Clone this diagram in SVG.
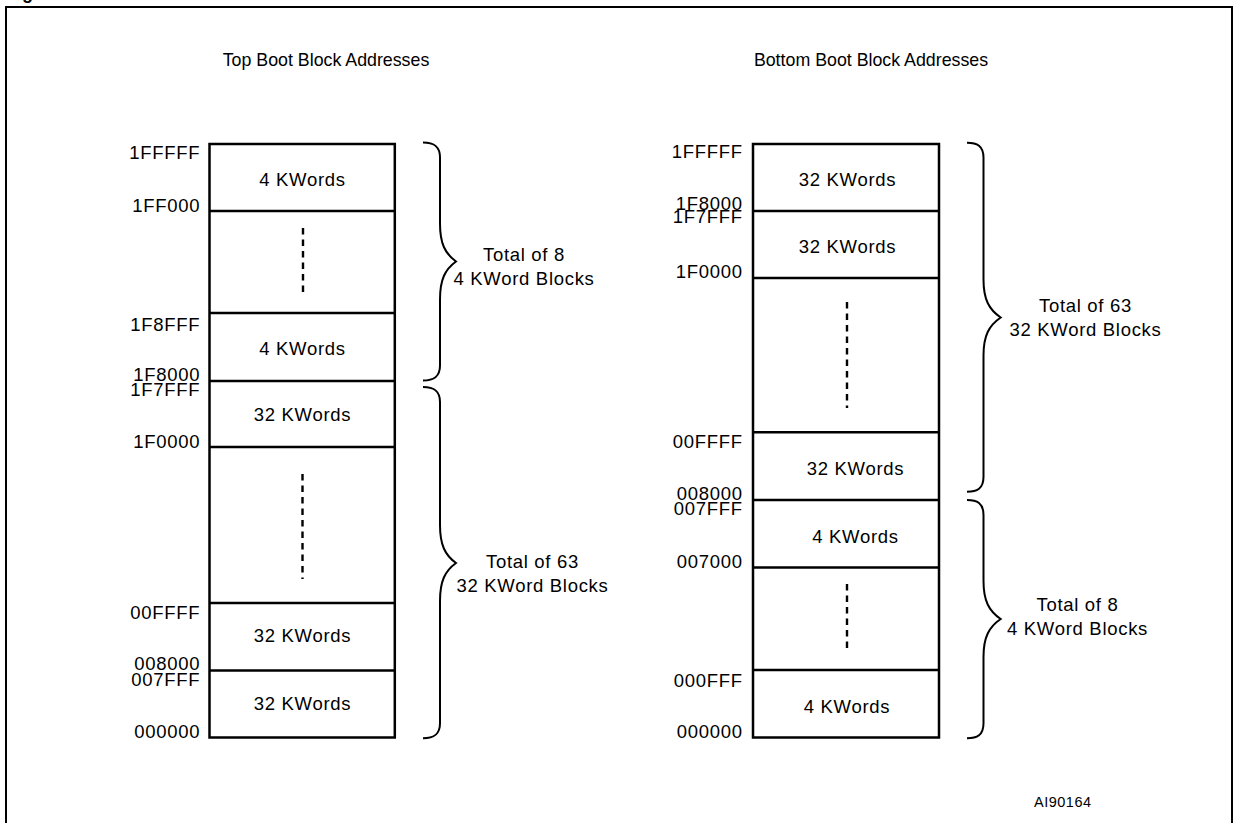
<svg xmlns="http://www.w3.org/2000/svg" width="1235" height="823" viewBox="0 0 1235 823">
<style>
text{font-family:"Liberation Sans",Arial,sans-serif;font-size:18.5px;letter-spacing:0.7px;fill:#000}
.r{text-anchor:end}
.m{text-anchor:middle}
.t{font-size:17.8px;letter-spacing:0}
.box{fill:none;stroke:#000;stroke-width:2.5}
.div{stroke:#000;stroke-width:2.5}
.dash{stroke:#000;stroke-width:2.4;stroke-dasharray:6.5 5}
.brace{fill:none;stroke:#000;stroke-width:2}
.id{font-size:14.5px;letter-spacing:0.5px}
</style>
<rect width="1235" height="823" fill="#fff"/>
<path d="M6,830 V7 H1232 V830" fill="none" stroke="#000" stroke-width="2"/>
<text x="6" y="-1" style="font-weight:bold;font-size:18px;letter-spacing:0">Figure</text>

<text id="title-top" class="m t" x="326" y="66">Top Boot Block Addresses</text>
<text id="title-bottom" class="m t" x="871" y="66">Bottom Boot Block Addresses</text>

<g id="left-map">
<rect class="box" x="209.5" y="144" width="185.3" height="593.5"/>
<line class="div" x1="209.5" y1="211" x2="394.8" y2="211"/>
<line class="div" x1="209.5" y1="313" x2="394.8" y2="313"/>
<line class="div" x1="209.5" y1="381" x2="394.8" y2="381"/>
<line class="div" x1="209.5" y1="447" x2="394.8" y2="447"/>
<line class="div" x1="209.5" y1="603" x2="394.8" y2="603"/>
<line class="div" x1="209.5" y1="670.5" x2="394.8" y2="670.5"/>
<line class="dash" x1="303" y1="228" x2="303" y2="294"/>
<line class="dash" x1="302.5" y1="474" x2="302.5" y2="579"/>
<text class="m" x="302.5" y="186">4 KWords</text>
<text class="m" x="302.5" y="355">4 KWords</text>
<text class="m" x="302.5" y="421">32 KWords</text>
<text class="m" x="302.5" y="642">32 KWords</text>
<text class="m" x="302.5" y="710">32 KWords</text>
<text class="r" x="200.2" y="159">1FFFFF</text>
<text class="r" x="200.2" y="212">1FF000</text>
<text class="r" x="200.2" y="331">1F8FFF</text>
<text class="r" x="200.2" y="381">1F8000</text>
<text class="r" x="200.2" y="396">1F7FFF</text>
<text class="r" x="200.2" y="448">1F0000</text>
<text class="r" x="200.2" y="619">00FFFF</text>
<text class="r" x="200.2" y="670">008000</text>
<text class="r" x="200.2" y="686">007FFF</text>
<text class="r" x="200.2" y="738">000000</text>
</g>

<g id="right-map">
<rect class="box" x="753" y="144" width="186" height="593.5"/>
<line class="div" x1="753" y1="211" x2="939" y2="211"/>
<line class="div" x1="753" y1="278" x2="939" y2="278"/>
<line class="div" x1="753" y1="432.3" x2="939" y2="432.3"/>
<line class="div" x1="753" y1="500" x2="939" y2="500"/>
<line class="div" x1="753" y1="567.5" x2="939" y2="567.5"/>
<line class="div" x1="753" y1="670" x2="939" y2="670"/>
<line class="dash" x1="847" y1="302" x2="847" y2="408"/>
<line class="dash" x1="847" y1="584" x2="847" y2="652"/>
<text class="m" x="847.5" y="186">32 KWords</text>
<text class="m" x="847.5" y="253">32 KWords</text>
<text class="m" x="855.5" y="475">32 KWords</text>
<text class="m" x="855.5" y="543">4 KWords</text>
<text class="m" x="847" y="713">4 KWords</text>
<text class="r" x="742.7" y="158">1FFFFF</text>
<text class="r" x="742.7" y="210">1F8000</text>
<text class="r" x="742.7" y="223">1F7FFF</text>
<text class="r" x="742.7" y="278">1F0000</text>
<text class="r" x="742.7" y="448">00FFFF</text>
<text class="r" x="742.7" y="500">008000</text>
<text class="r" x="742.7" y="515">007FFF</text>
<text class="r" x="742.7" y="568">007000</text>
<text class="r" x="742.7" y="687">000FFF</text>
<text class="r" x="742.7" y="738">000000</text>
</g>

<g id="braces">
<path class="brace" d="M423,142.5 C433,142.5 440,145.5 440,157.5 L440,223.5 C440,243.5 445,253.5 456,261.5 C445,269.5 440,279.5 440,299.5 L440,365.5 C440,377.5 433,380.5 423,380.5"/>
<path class="brace" d="M423,387 C433,387 440,390 440,402 L440,525 C440,545 445,555 456,563 C445,571 440,581 440,601 L440,723.3 C440,735.3 433,738.3 423,738.3"/>
<path class="brace" d="M967,142.7 C977,142.7 983.5,145.7 983.5,157.7 L983.5,279.5 C983.5,299.5 989,309.5 1000.7,317.5 C989,325.5 983.5,335.5 983.5,355.5 L983.5,476.7 C983.5,488.7 977,491.7 967,491.7"/>
<path class="brace" d="M967,500 C977,500 983.5,503 983.5,515 L983.5,581 C983.5,601 989,611 1000.7,619 C989,627 983.5,637 983.5,657 L983.5,723.3 C983.5,735.3 977,738.3 967,738.3"/>
</g>

<g id="brace-labels">
<text class="m" x="524" y="261">Total of 8</text>
<text class="m" x="524" y="285">4 KWord Blocks</text>
<text class="m" x="532.5" y="568">Total of 63</text>
<text class="m" x="532.5" y="592">32 KWord Blocks</text>
<text class="m" x="1085.5" y="312">Total of 63</text>
<text class="m" x="1085.5" y="336">32 KWord Blocks</text>
<text class="m" x="1077.5" y="611">Total of 8</text>
<text class="m" x="1077.5" y="635">4 KWord Blocks</text>
</g>

<text class="id" x="1034" y="807">AI90164</text>
</svg>
